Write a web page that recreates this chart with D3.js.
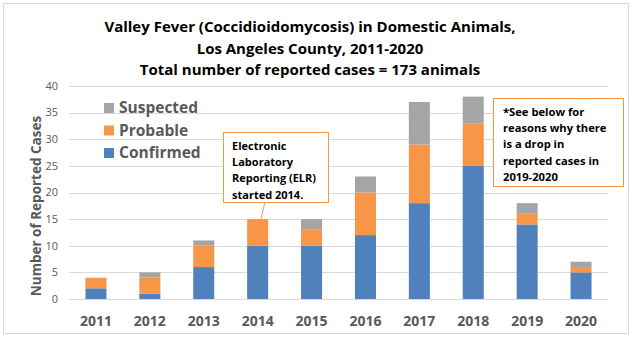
<!DOCTYPE html>
<html>
<head>
<meta charset="utf-8">
<script src="https://cdn.jsdelivr.net/npm/d3@7"></script>
<style>
  body { margin: 0; background: #fff; }
  text { font-family: "Open Sans", "Liberation Sans", sans-serif; }
</style>
</head>
<body>
<div id="chart"></div>
<script>
// data
const years = ["2011", "2012", "2013", "2014", "2015", "2016", "2017", "2018", "2019", "2020"];
const confirmed = [2, 1, 6, 10, 10, 12, 18, 25, 14, 5];
const probable  = [2, 3, 4, 5, 3, 8, 11, 8, 2, 1];
const suspected = [0, 1, 1, 0, 2, 3, 8, 5, 2, 1];
const yTicks = [0, 5, 10, 15, 20, 25, 30, 35, 40];
const seriesNames = ["Confirmed", "Probable", "Suspected"];
const colors = {Confirmed: "#4F81BD", Probable: "#F79646", Suspected: "#A5A5A5"};

const width = 633, height = 340;
const margin = {top: 86, right: 25, bottom: 41, left: 69};

const svg = d3.select("#chart")
  .append("svg")
  .attr("width", width)
  .attr("height", height);

// outer frame
svg.append("rect")
  .attr("x", 3.5).attr("y", 3.5)
  .attr("width", 625).attr("height", 330)
  .attr("fill", "#fff")
  .attr("stroke", "#d9d9d9");

const table = years.map((yr, i) => ({
  year: yr, Confirmed: confirmed[i], Probable: probable[i], Suspected: suspected[i]
}));
const stacked = d3.stack().keys(seriesNames)(table);

const x = d3.scaleBand()
  .domain(years)
  .range([margin.left, width - margin.right])
  .paddingInner(0.61)
  .paddingOuter(0.305);

const y = d3.scaleLinear()
  .domain([0, 40])
  .range([height - margin.bottom, margin.top]);

// gridlines
svg.append("g")
  .selectAll("line")
  .data(yTicks)
  .join("line")
  .attr("x1", margin.left)
  .attr("x2", width - margin.right)
  .attr("y1", d => Math.round(y(d)) + 0.5)
  .attr("y2", d => Math.round(y(d)) + 0.5)
  .attr("stroke", "#d9d9d9")
  .attr("stroke-width", 1);

// y tick labels
svg.append("g")
  .selectAll("text")
  .data(yTicks)
  .join("text")
  .attr("x", 58)
  .attr("y", d => y(d))
  .attr("dy", "0.35em")
  .attr("text-anchor", "end")
  .style("font-size", "11px")
  .style("fill", "#595959")
  .text(d => d);

// bars
svg.append("g")
  .selectAll("g")
  .data(stacked)
  .join("g")
  .attr("fill", d => colors[d.key])
  .selectAll("rect")
  .data(d => d)
  .join("rect")
  .attr("x", d => x(d.data.year))
  .attr("y", d => y(d[1]))
  .attr("width", x.bandwidth())
  .attr("height", d => y(d[0]) - y(d[1]));

// x labels
svg.append("g")
  .selectAll("text")
  .data(years)
  .join("text")
  .attr("x", d => x(d) + x.bandwidth() / 2)
  .attr("y", 321)
  .attr("dy", "0.35em")
  .attr("text-anchor", "middle")
  .style("font-size", "14px")
  .style("font-weight", "bold")
  .style("fill", "#595959")
  .text(d => d);

// y axis title
svg.append("text")
  .attr("transform", "translate(36,206) rotate(-90)")
  .attr("text-anchor", "middle")
  .attr("dy", "0.35em")
  .style("font-size", "13.5px")
  .style("font-weight", "bold")
  .style("fill", "#595959")
  .text("Number of Reported Cases");

// title
const titleLines = [
  "Valley Fever (Coccidioidomycosis) in Domestic Animals,",
  "Los Angeles County, 2011-2020",
  "Total number of reported cases = 173 animals"
];
svg.append("g")
  .selectAll("text")
  .data(titleLines)
  .join("text")
  .attr("x", 310)
  .attr("y", (d, i) => 27 + i * 21.5)
  .attr("dy", "0.35em")
  .attr("text-anchor", "middle")
  .style("font-size", "15px")
  .style("font-weight", "bold")
  .style("fill", "#000")
  .text(d => d);

// legend
const legendOrder = ["Suspected", "Probable", "Confirmed"];
const legend = svg.append("g")
  .selectAll("g")
  .data(legendOrder)
  .join("g")
  .attr("transform", (d, i) => `translate(104,${103 + i * 22.5})`);
legend.append("rect")
  .attr("width", 10).attr("height", 10)
  .attr("fill", d => colors[d]);
legend.append("text")
  .attr("x", 15)
  .attr("y", 5)
  .attr("dy", "0.35em")
  .style("font-size", "15.5px")
  .style("font-weight", "bold")
  .style("fill", "#595959")
  .text(d => d);

// annotation 1: ELR
const i14 = years.indexOf("2014");
const leadX = x("2014") + x.bandwidth() / 2;
const leadY = y(confirmed[i14] + probable[i14] / 2);
svg.append("line")
  .attr("x1", 265).attr("y1", 202)
  .attr("x2", leadX).attr("y2", leadY)
  .attr("stroke", "#F79646")
  .attr("stroke-width", 1);
svg.append("rect")
  .attr("x", 223.5).attr("y", 132.5)
  .attr("width", 105).attr("height", 70)
  .attr("fill", "#fff")
  .attr("stroke", "#F79646");
const note1 = ["Electronic", "Laboratory", "Reporting (ELR)", "started 2014."];
svg.append("g")
  .selectAll("text")
  .data(note1)
  .join("text")
  .attr("x", 232)
  .attr("y", (d, i) => 146 + i * 16.3)
  .attr("dy", "0.35em")
  .style("font-size", "11px")
  .style("font-weight", "bold")
  .style("fill", "#000")
  .text(d => d);

// annotation 2
svg.append("rect")
  .attr("x", 493.5).attr("y", 98.5)
  .attr("width", 130).attr("height", 88)
  .attr("fill", "#fff")
  .attr("stroke", "#F79646");
const note2 = ["*See below for", "reasons why there", "is a drop in", "reported cases in", "2019-2020"];
svg.append("g")
  .selectAll("text")
  .data(note2)
  .join("text")
  .attr("x", 503)
  .attr("y", (d, i) => 112 + i * 16.2)
  .attr("dy", "0.35em")
  .style("font-size", "11.2px")
  .style("font-weight", "bold")
  .style("fill", "#000")
  .text(d => d);
</script>
</body>
</html>
